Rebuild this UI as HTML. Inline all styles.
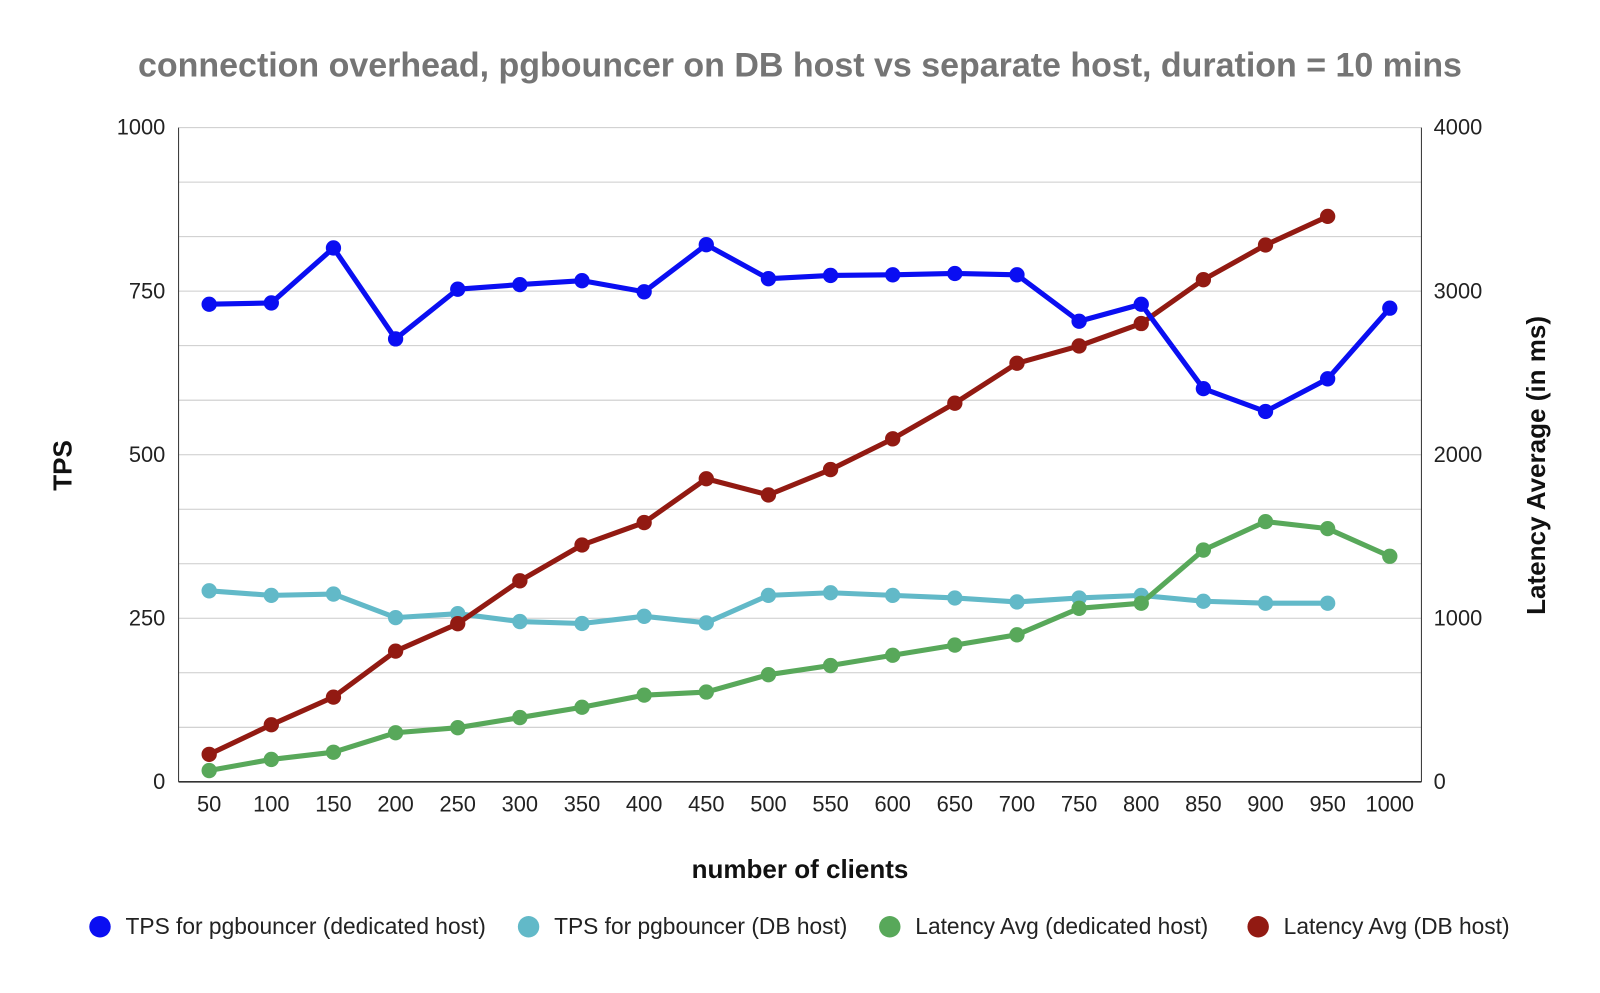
<!DOCTYPE html>
<html><head><meta charset="utf-8"><style>
body{margin:0;background:#fff;font-family:"Liberation Sans",Arial,sans-serif}
svg text{font-family:"Liberation Sans",Arial,sans-serif}
</style></head><body>
<svg id="c" width="1600" height="988" viewBox="0 0 1568 968" preserveAspectRatio="none"></svg>
<script>
const categories=[50,100,150,200,250,300,350,400,450,500,550,600,650,700,750,800,850,900,950,1000];
const tpsDedicated=[730,732,816,677,753,760,766,749,821,769,774,775,777,775,704,730,601,566,616,724];
const tpsDbHost=[292,285,287,251,257,245,242,253,243,285,289,285,281,275,281,285,276,273,273,null];
const latDedicated=[69,137,181,300,331,393,456,530,549,655,711,774,836,899,1061,1092,1417,1591,1548,1379];
const latDbHost=[168,349,518,799,967,1229,1448,1585,1853,1754,1909,2097,2315,2559,2665,2802,3070,3282,3457,null];
const leftTicks=[0,250,500,750,1000];
const rightTicks=[0,1000,2000,3000,4000];
const seriesNames=["TPS for pgbouncer (dedicated host)","TPS for pgbouncer (DB host)","Latency Avg  (dedicated host)","Latency Avg (DB host)"];

const L=175,R=1393,T=125,B=766;
const svg=document.getElementById('c');
const NS='http://www.w3.org/2000/svg';
function mk(tag,attrs,parent){const e=document.createElementNS(NS,tag);for(const k in attrs)e.setAttribute(k,attrs[k]);(parent||svg).appendChild(e);return e;}
const x=i=>205+i*(1362-205)/(categories.length-1);
const yL=v=>B-(v/1000)*(B-T);
const yR=v=>B-(v/4000)*(B-T);

let t=mk('text',{x:784,y:75,'text-anchor':'middle','font-size':33.3,'font-weight':'bold',fill:'#757575'});
t.textContent="connection overhead, pgbouncer on DB host vs separate host, duration = 10 mins";



for(let k=0;k<=12;k++){
  const yy=B-k*(B-T)/12;
  const g=mk('line',{x1:L,x2:R,y1:yy,y2:yy,stroke:k==0?'#333':'#ccc','stroke-width':k==0?1.5:1});
  
  
}
mk('line',{x1:L,x2:L,y1:T,y2:B,stroke:'#333','stroke-width':1});
mk('line',{x1:R,x2:R,y1:T,y2:B,stroke:'#333','stroke-width':1});

leftTicks.forEach(v=>{const e=mk('text',{x:162,y:yL(v)+7,'text-anchor':'end','font-size':21.4,fill:'#222'});e.textContent=v;

});
rightTicks.forEach(v=>{const e=mk('text',{x:1405,y:yR(v)+7,'text-anchor':'start','font-size':21.4,fill:'#222'});e.textContent=v;

});
categories.forEach((c,i)=>{const e=mk('text',{x:x(i),y:795,'text-anchor':'middle','font-size':21.4,fill:'#222'});e.textContent=c;

});

t=mk('text',{x:784,y:860,'text-anchor':'middle','font-size':25.5,'font-weight':'bold',fill:'#111'});t.textContent="number of clients";


t=mk('text',{x:0,y:0,'text-anchor':'middle','font-size':25.5,'font-weight':'bold',fill:'#111',transform:'translate(70,456) rotate(-90)'});t.textContent="TPS";


t=mk('text',{x:0,y:0,'text-anchor':'middle','font-size':25.5,'font-weight':'bold',fill:'#111',transform:'translate(1514,456) rotate(-90)'});t.textContent="Latency Average (in ms)";



function series(data,yf,color,name){
  const g=mk('g',{});
  
  
  let d='';data.forEach((v,i)=>{if(v==null)return;d+=(d?'L':'M')+x(i)+','+yf(v);});
  mk('path',{d:d,fill:'none',stroke:color,'stroke-width':5,'stroke-linejoin':'round'},g);
  data.forEach((v,i)=>{if(v==null)return;const p=mk('circle',{cx:x(i),cy:yf(v),r:7.5,fill:color},g);
    
    });
}
series(tpsDbHost,yL,'#62b9c8','series-tps-db-host');
series(latDedicated,yR,'#58a85a','series-latency-dedicated');
series(latDbHost,yR,'#921a12','series-latency-db-host');
series(tpsDedicated,yL,'#0a0ef2','series-tps-dedicated');

const colors=['#0a0ef2','#62b9c8','#58a85a','#921a12'];
const lx=[98,518,872,1233];
seriesNames.forEach((n,i)=>{
  const g=mk('g',{});
  
  
  mk('circle',{cx:lx[i],cy:908,r:10.5,fill:colors[i]},g);
  const e=mk('text',{x:lx[i]+25,y:915,'font-size':22.3,fill:'#222'},g);e.textContent=n;
});
</script>
</body></html>
